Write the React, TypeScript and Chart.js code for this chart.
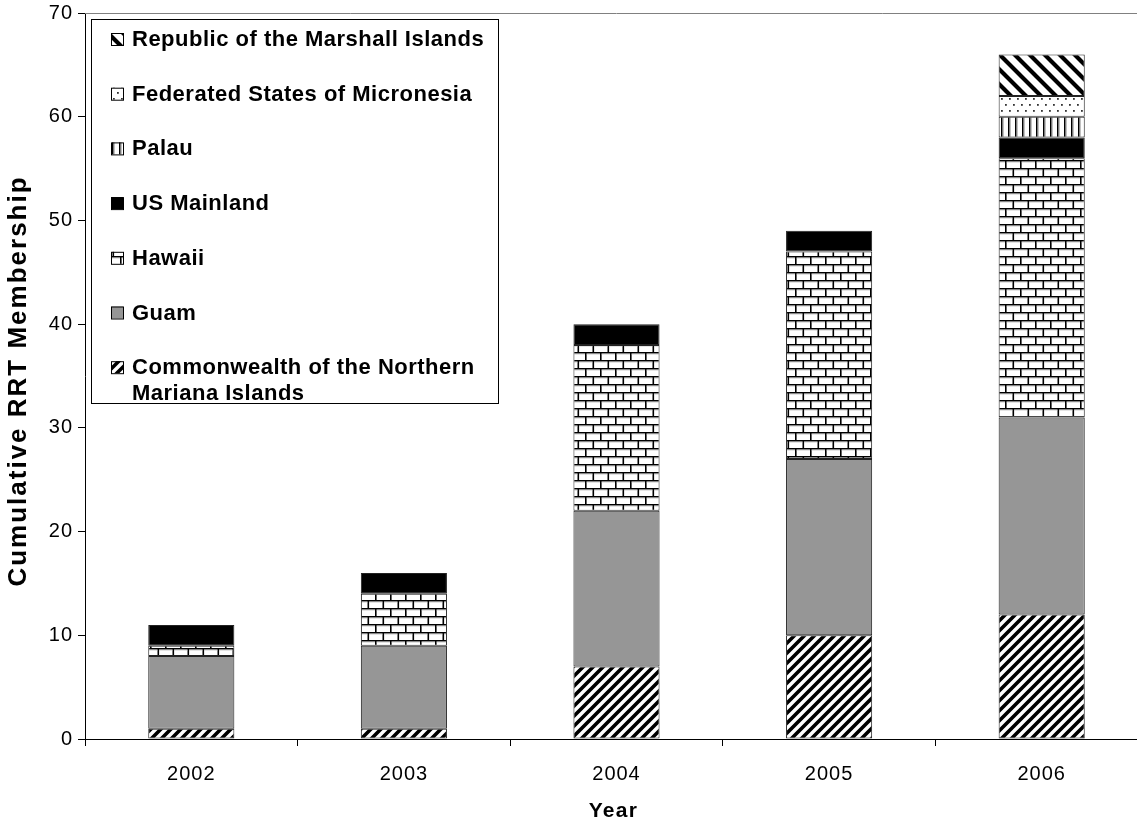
import React, { useEffect, useRef } from "react";
import { Chart, registerables } from "chart.js";

Chart.register(...registerables);

const years = ["2002", "2003", "2004", "2005", "2006"];
const cnmi = [1, 1, 7, 10, 12];
const guam = [7, 8, 15, 17, 19];
const hawaii = [1, 5, 16, 20, 25];
const usMainland = [2, 2, 2, 2, 2];
const palau = [0, 0, 0, 0, 2];
const fsm = [0, 0, 0, 0, 2];
const rmi = [0, 0, 0, 0, 4];

const seriesNames = [
  "Commonwealth of the Northern Mariana Islands",
  "Guam",
  "Hawaii",
  "US Mainland",
  "Palau",
  "Federated States of Micronesia",
  "Republic of the Marshall Islands",
];
const legendOrder = [6, 5, 4, 3, 2, 1, 0];
const legendLines: Record<number, string[]> = {
  0: ["Commonwealth of the Northern", "Mariana Islands"],
};
const xTitle = "Year";
const yTitle = "Cumulative RRT Membership";

const FONT = "'Liberation Sans', Arial, sans-serif";

function tile(w: number, h: number, draw: (c: CanvasRenderingContext2D) => void) {
  const cv = document.createElement("canvas");
  cv.width = w;
  cv.height = h;
  const c = cv.getContext("2d")!;
  c.fillStyle = "#fff";
  c.fillRect(0, 0, w, h);
  draw(c);
  const ref = document.createElement("canvas").getContext("2d")!;
  return ref.createPattern(cv, "repeat") as CanvasPattern;
}

function makePatterns() {
  const fwd = tile(10, 10, (c) => {
    c.strokeStyle = "#000";
    c.lineWidth = 3.6;
    c.beginPath();
    for (const k of [0, 10, 20]) {
      c.moveTo(k + 5, -5);
      c.lineTo(k - 15, 15);
    }
    c.stroke();
  });
  const back = tile(15, 15, (c) => {
    c.strokeStyle = "#000";
    c.lineWidth = 4.2;
    c.beginPath();
    for (const k of [-15, 0, 15]) {
      c.moveTo(k - 5, -5);
      c.lineTo(k + 20, 20);
    }
    c.stroke();
  });
  const brick = tile(15, 16, (c) => {
    c.fillStyle = "#000";
    c.fillRect(0, 0, 15, 1.6);
    c.fillRect(0, 8, 15, 1.6);
    c.fillRect(0, 0, 1.6, 8);
    c.fillRect(7.5, 8, 1.6, 8);
    c.fillStyle = "#bbb";
    c.fillRect(1.6, 1.6, 13.4, 0.8);
    c.fillRect(0, 9.6, 7.5, 0.8);
    c.fillRect(9.1, 9.6, 5.9, 0.8);
  });
  const vert = tile(7, 2, (c) => {
    c.fillStyle = "#000";
    c.fillRect(0, 0, 1.6, 2);
    c.fillStyle = "#999";
    c.fillRect(1.6, 0, 1, 2);
  });
  const dots = tile(8, 12, (c) => {
    c.fillStyle = "#333";
    c.fillRect(1, 2, 1.8, 1.8);
    c.fillRect(5, 8, 1.8, 1.8);
  });
  return [fwd, "#969696", brick, "#000000", vert, dots, back];
}

const spacingPlugin = {
  id: "spacing",
  beforeDraw(chart: any) {
    (chart.ctx as any).letterSpacing = "1px";
  },
};

const legendPlugin = {
  id: "boxLegend",
  afterDraw(chart: any) {
    const ctx = chart.ctx as CanvasRenderingContext2D;
    const area = chart.chartArea;
    ctx.save();
    // plot top border
    ctx.strokeStyle = "#808080";
    ctx.lineWidth = 1;
    ctx.beginPath();
    ctx.moveTo(area.left, area.top + 0.5);
    ctx.lineTo(area.right, area.top + 0.5);
    ctx.stroke();

    // axis titles
    ctx.fillStyle = "#000";
    ctx.textAlign = "center";
    ctx.textBaseline = "middle";
    (ctx as any).letterSpacing = "1.3px";
    ctx.font = `bold 21px ${FONT}`;
    ctx.fillText(xTitle, (area.left + area.right) / 2 - 3, 811);
    ctx.save();
    ctx.translate(19, (area.top + area.bottom) / 2 + 5);
    ctx.rotate(-Math.PI / 2);
    (ctx as any).letterSpacing = "2px";
    ctx.font = `bold 26px ${FONT}`;
    ctx.fillText(yTitle, 0, 0);
    ctx.restore();

    // legend box
    const bx = area.left + 6;
    const by = area.top + 6;
    const bw = 407;
    const bh = 384;
    ctx.fillStyle = "#fff";
    ctx.fillRect(bx, by, bw, bh);
    ctx.strokeStyle = "#000";
    ctx.strokeRect(bx + 0.5, by + 0.5, bw, bh);

    (ctx as any).letterSpacing = "0.5px";
    ctx.font = `bold 22px ${FONT}`;
    ctx.textBaseline = "middle";
    ctx.textAlign = "left";
    const rowH = 54.7;
    legendOrder.forEach((di, i) => {
      const cy = by + 20 + i * rowH;
      const ds = chart.data.datasets[di];
      ctx.fillStyle = ds.backgroundColor;
      ctx.fillRect(bx + 20, cy - 6, 12, 12);
      ctx.strokeStyle = "#000";
      ctx.lineWidth = 1;
      ctx.strokeRect(bx + 20.5, cy - 5.5, 12, 12);
      ctx.fillStyle = "#000";
      const lines = legendLines[di] || [seriesNames[di]];
      lines.forEach((t, j) => ctx.fillText(t, bx + 41, cy + 1 + j * 25.5));
    });
    ctx.restore();
  },
};

export default function App() {
  const ref = useRef<HTMLCanvasElement>(null);
  useEffect(() => {
    const pats = makePatterns();
    const values = [cnmi, guam, hawaii, usMainland, palau, fsm, rmi];
    const chart = new Chart(ref.current!, {
      type: "bar",
      data: {
        labels: years,
        datasets: values.map((v, i) => ({
          label: seriesNames[i],
          data: v,
          backgroundColor: pats[i] as any,
          borderColor: "#222",
          borderWidth: 1,
          borderSkipped: false,
          barPercentage: 0.405,
          categoryPercentage: 1,
        })),
      },
      options: {
        responsive: false,
        animation: false,
        layout: { padding: { left: 0, right: 4, top: 13, bottom: 0 } },
        plugins: { legend: { display: false }, tooltip: { enabled: false } },
        scales: {
          x: {
            stacked: true,
            offset: true,
            grid: {
              display: true,
              drawOnChartArea: false,
              drawTicks: true,
              tickLength: 7,
              color: "#000",
              offset: true,
            },
            border: { color: "#000", width: 1 },
            ticks: { color: "#000", font: { family: FONT, size: 20 }, padding: 16 },
            afterFit: (s: any) => {
              s.height = 84;
              s.paddingLeft = 0;
              s.paddingRight = 0;
              s.paddingTop = 0;
              s.paddingBottom = 0;
            },
          },
          y: {
            stacked: true,
            min: 0,
            max: 70,
            ticks: {
              stepSize: 10,
              color: "#000",
              font: { family: FONT, size: 20 },
              padding: 5,
            },
            grid: {
              display: true,
              drawOnChartArea: false,
              drawTicks: true,
              tickLength: 7,
              color: "#000",
            },
            border: { color: "#000", width: 1 },
            afterFit: (s: any) => {
              s.width = 85;
              s.paddingLeft = 0;
              s.paddingRight = 0;
              s.paddingTop = 0;
              s.paddingBottom = 0;
            },
          },
        },
      },
      plugins: [spacingPlugin, legendPlugin],
    });
    return () => chart.destroy();
  }, []);
  return (
    <div
      style={{
        position: "fixed",
        left: 0,
        top: 0,
        width: 1137,
        height: 823,
        overflow: "hidden",
        background: "#fff",
      }}
    >
      <canvas ref={ref} width={1152} height={823} style={{ display: "block" }} />
    </div>
  );
}
